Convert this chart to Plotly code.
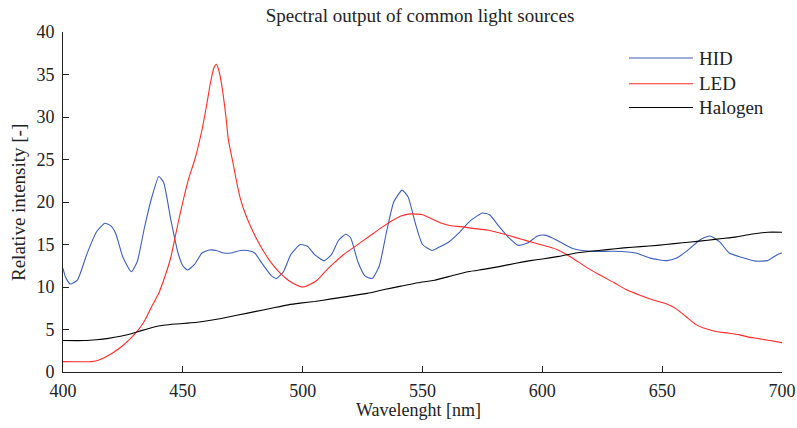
import plotly.graph_objects as go

hid_x = [400, 401, 403, 406, 410, 414, 417.5, 420, 422, 425, 428.5, 431, 434, 437, 440, 442, 445, 448, 450, 452, 455, 458, 461, 464, 467, 470, 474, 477, 480, 483, 487, 489, 492, 495, 499, 502, 505, 509, 512, 515, 518, 520, 523, 526, 529, 532, 535, 538, 541.5, 544, 547, 550, 554, 557, 561, 565, 570, 575, 578, 582, 586, 590, 594, 598, 601, 604, 608, 613, 620, 630, 639, 645, 652, 656, 661, 666, 670, 674, 678, 683, 689, 694, 698, 700]
hid_y = [12.2, 11.2, 10.35, 10.8, 13.9, 16.5, 17.5, 17.2, 16.3, 13.5, 11.8, 13.0, 17.0, 20.5, 23.0, 22.3, 17.9, 14.0, 12.5, 12.0, 12.7, 14.0, 14.35, 14.3, 14.0, 14.0, 14.3, 14.3, 14.0, 12.8, 11.3, 11.0, 11.8, 13.8, 15.0, 14.8, 13.8, 13.1, 13.8, 15.5, 16.2, 15.8, 13.0, 11.3, 11.0, 12.5, 16.5, 20.0, 21.4, 20.6, 17.5, 15.0, 14.3, 14.7, 15.3, 16.3, 17.8, 18.7, 18.5, 17.1, 15.8, 14.9, 15.2, 16.0, 16.1, 15.8, 15.2, 14.5, 14.2, 14.2, 14.0, 13.4, 13.1, 13.4, 14.4, 15.6, 16.0, 15.3, 14.0, 13.5, 13.05, 13.1, 13.8, 14.0]

led_x = [400, 412, 415, 418, 421, 424.5, 428, 431, 434, 437, 440, 442.5, 445, 448, 450, 452.5, 455, 458, 460, 461.5, 463, 464, 465, 466.2, 468, 469, 471, 472, 474, 476.5, 480, 483.5, 487, 490, 494, 497, 500, 503, 506, 509, 513, 517, 522.5, 528, 533.5, 538, 541, 545, 550, 554, 558, 562, 566, 571, 577, 583, 588, 594, 599, 603, 607, 612, 618, 624, 630, 635, 641, 646, 652, 656, 660, 664, 667, 672, 677, 682, 686, 690, 695, 700]
led_y = [1.22, 1.22, 1.4, 1.8, 2.3, 3.0, 3.9, 4.8, 6.0, 7.7, 9.3, 11.2, 13.5, 17.5, 20.0, 22.8, 25.0, 28.5, 31.5, 34.0, 35.8, 36.2, 35.5, 33.8, 30.0, 27.3, 24.5, 23.0, 20.4, 18.3, 16.1, 14.3, 12.8, 11.8, 10.8, 10.3, 10.0, 10.3, 10.8, 11.7, 12.8, 13.8, 14.9, 16.0, 17.1, 17.9, 18.35, 18.6, 18.5, 18.0, 17.5, 17.2, 17.1, 16.9, 16.7, 16.3, 15.9, 15.4, 15.0, 14.7, 14.3, 13.5, 12.4, 11.4, 10.5, 9.7, 9.0, 8.5, 8.0, 7.4, 6.5, 5.6, 5.2, 4.8, 4.6, 4.4, 4.1, 3.95, 3.7, 3.45]

hal_x = [400, 409, 414, 419, 424, 428.5, 433, 438, 442, 447, 452, 456, 461, 466, 473, 480, 487, 494, 499, 505, 512, 519, 527, 534, 541, 548, 555, 562, 569, 576, 582, 589, 595, 600, 607, 613, 620, 627, 634, 641, 648, 655, 662, 669, 675, 681, 687, 694, 700]
hal_y = [3.7, 3.7, 3.8, 3.96, 4.2, 4.5, 4.9, 5.3, 5.5, 5.65, 5.75, 5.85, 6.05, 6.3, 6.7, 7.1, 7.5, 7.9, 8.1, 8.3, 8.6, 8.9, 9.25, 9.7, 10.1, 10.5, 10.8, 11.3, 11.8, 12.1, 12.4, 12.8, 13.1, 13.3, 13.6, 13.95, 14.2, 14.4, 14.6, 14.75, 14.9, 15.1, 15.3, 15.5, 15.7, 15.9, 16.2, 16.45, 16.45]

names = ["HID", "LED", "Halogen"]
colors = ["#3d5fb5", "#ff2a2a", "#000000"]
x_ticks = [400, 450, 500, 550, 600, 650, 700]
y_ticks = [0, 5, 10, 15, 20, 25, 30, 35, 40]
x_title = "Wavelenght [nm]"
y_title = "Relative intensity [-]"
chart_title = "Spectral output of common light sources"

FONT = "Liberation Serif"
TXT = "#222222"
fig = go.Figure()
for nm, xs, ys, c in zip(names, [hid_x, led_x, hal_x], [hid_y, led_y, hal_y], colors):
    fig.add_trace(go.Scatter(x=xs, y=ys, name=nm, mode="lines",
                             line=dict(color=c, width=1.1, shape="spline", smoothing=0.5),
                             showlegend=False))

# manual legend (line sample + text)
leg_y = [0.9235, 0.848, 0.778]
for nm, c, ly in zip(names, colors, leg_y):
    fig.add_shape(type="line", xref="paper", yref="paper", x0=0.7872, x1=0.8762, y0=ly, y1=ly,
                  line=dict(color=c, width=1.1))
    fig.add_annotation(xref="paper", yref="paper", x=0.882, y=ly, text=nm, showarrow=False,
                       xanchor="left", yanchor="middle", font=dict(family=FONT, size=19, color=TXT))

# axis titles
fig.add_annotation(xref="paper", yref="paper", x=0.495, y=-0.112, text=x_title, showarrow=False,
                   xanchor="center", yanchor="middle", font=dict(family=FONT, size=18, color=TXT))
fig.add_annotation(xref="paper", yref="paper", x=-0.0626, y=0.5, text=y_title, showarrow=False,
                   textangle=-90, xanchor="center", yanchor="middle",
                   font=dict(family=FONT, size=19, color=TXT))

fig.update_layout(
    width=797, height=428,
    margin=dict(l=63, r=15, t=32, b=56),
    paper_bgcolor="white", plot_bgcolor="white",
    font=dict(family=FONT, size=17, color=TXT),
    title=dict(text=chart_title, x=0.527, xanchor="center",
               y=0.965, yanchor="middle", font=dict(family=FONT, size=19, color=TXT)),
    xaxis=dict(range=[400, 700], tickvals=x_ticks, ticks="inside", ticklen=6, tickcolor=TXT,
               showline=True, linecolor=TXT, linewidth=1, showgrid=False, zeroline=False,
               automargin=False, ticklabelstandoff=2,
               tickfont=dict(family=FONT, size=18, color=TXT)),
    yaxis=dict(range=[0, 40], tickvals=y_ticks, ticks="inside", ticklen=6, tickcolor=TXT,
               showline=True, linecolor=TXT, linewidth=1, showgrid=False, zeroline=False,
               automargin=False, ticklabelstandoff=4,
               tickfont=dict(family=FONT, size=18, color=TXT)),
)
fig.write_html("out.html")
